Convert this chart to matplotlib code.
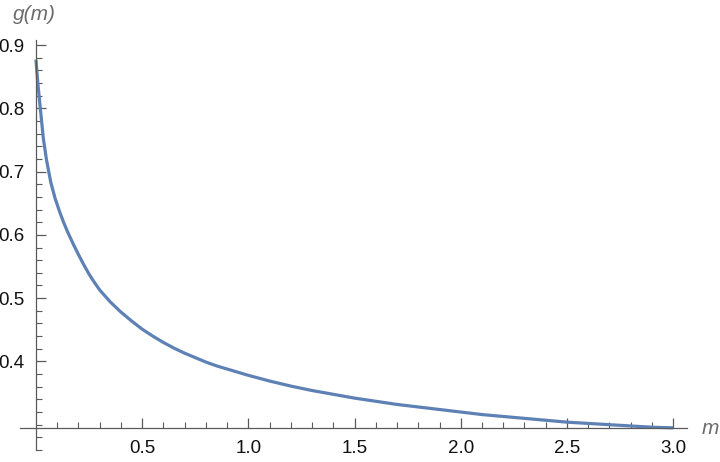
import numpy as np
import matplotlib
matplotlib.use("Agg")
import matplotlib.pyplot as plt
from matplotlib.ticker import FixedLocator

plt.rcParams['font.family'] = ['Liberation Sans', 'DejaVu Sans']

# values
m_vals = [0.0, 0.005, 0.01, 0.02, 0.035, 0.05, 0.07, 0.09, 0.11, 0.13, 0.15,
          0.175, 0.2, 0.225, 0.25, 0.275, 0.3, 0.35, 0.4, 0.45, 0.5, 0.55, 0.6,
          0.65, 0.7, 0.75, 0.8, 0.85, 0.9, 0.95, 1.0, 1.1, 1.2, 1.3, 1.4, 1.5,
          1.6, 1.7, 1.8, 1.9, 2.0, 2.1, 2.2, 2.3, 2.4, 2.5, 2.6, 2.7, 2.8, 2.9, 3.0]
g_vals = [0.877, 0.856, 0.836, 0.802, 0.752, 0.718, 0.683, 0.658, 0.638, 0.620, 0.604,
          0.586, 0.569, 0.553, 0.538, 0.525, 0.513, 0.494, 0.478, 0.464, 0.451, 0.440, 0.430,
          0.421, 0.413, 0.406, 0.399, 0.393, 0.388, 0.383, 0.378, 0.369, 0.361, 0.354, 0.348, 0.342,
          0.337, 0.332, 0.328, 0.324, 0.320, 0.316, 0.313, 0.310, 0.307, 0.304, 0.302, 0.300, 0.298, 0.296, 0.295]

x_major = [0.5, 1.0, 1.5, 2.0, 2.5, 3.0]
y_major = [0.4, 0.5, 0.6, 0.7, 0.8, 0.9]

axis_col = '#5a5a5a'
label_col = '#6b6b6b'
line_col = '#5e81b5'

fig = plt.figure(figsize=(7.2, 4.62), dpi=100)
ax = fig.add_axes([20 / 720, 12 / 462, 667 / 720, 410 / 462])

ax.plot(m_vals, g_vals, color=line_col, lw=2.3, solid_capstyle='butt')

ax.set_xlim(-0.075, 3.065)
ax.set_ylim(0.260, 0.908)

ax.spines['top'].set_visible(False)
ax.spines['right'].set_visible(False)
ax.spines['left'].set_position(('data', 0))
ax.spines['bottom'].set_position(('data', 0.295))
for s in ('left', 'bottom'):
    ax.spines[s].set_color(axis_col)
    ax.spines[s].set_linewidth(0.9)

ax.xaxis.set_major_locator(FixedLocator(x_major))
ax.xaxis.set_minor_locator(FixedLocator([round(0.1 * i, 2) for i in range(1, 31)
                                         if round(0.1 * i, 2) not in x_major]))
ax.yaxis.set_major_locator(FixedLocator(y_major))
ax.yaxis.set_minor_locator(FixedLocator([round(0.26 + 0.02 * i, 2) for i in range(0, 33)
                                         if round(0.26 + 0.02 * i, 2) not in y_major]))
ax.set_xticklabels([f"{v:.1f}" for v in x_major])
ax.set_yticklabels([f"{v:.1f}" for v in y_major])

ax.tick_params(axis='both', which='major', direction='in', length=7, width=0.9,
               color=axis_col, labelsize=13.5, labelcolor='#111111')
ax.tick_params(axis='both', which='minor', direction='in', length=4, width=0.8,
               color=axis_col)
ax.tick_params(axis='x', which='major', pad=9)
ax.tick_params(axis='y', which='major', pad=8)

fig.text(13 / 720, 1 - 15 / 462, 'g(m)', fontsize=15, style='italic',
         color=label_col, va='center', ha='left')
fig.text(702 / 720, 1 - 428 / 462, 'm', fontsize=15, style='italic',
         color=label_col, va='center', ha='left')

fig.savefig('out.png', dpi=100)
